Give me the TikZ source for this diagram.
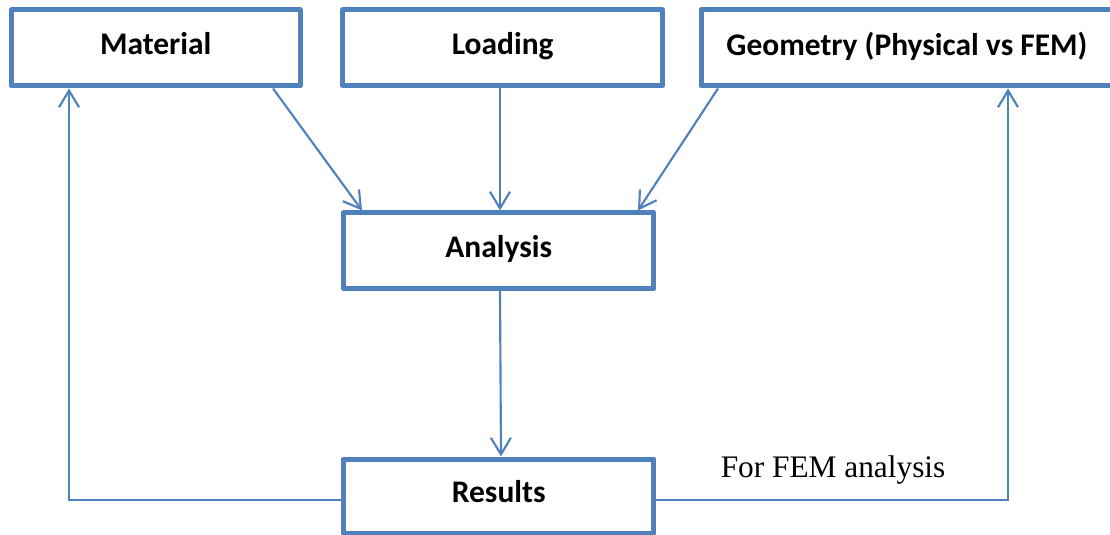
\documentclass[tikz,border=0pt]{standalone}
\usepackage{fontspec}
\setmainfont{Carlito}
\newfontfamily\serifnote{Liberation Serif}
\usetikzlibrary{arrows.meta}
\definecolor{officeblue}{HTML}{4F81BD}
\tikzset{
  box/.style={draw=officeblue, line width=3.75pt, line join=round, fill=white,
    inner sep=0pt, font=\fontsize{23.6pt}{28pt}\selectfont\bfseries, text=black},
  conn/.style={draw=officeblue, line width=1.6pt},
  arr/.style={conn, -{Straight Barb[length=12.5pt, width=15pt, line width=1.6pt]}},
}
% box labels sit a little above the middle of their box
\newcommand{\boxlabel}[1]{\raisebox{7pt}{#1}}
\begin{document}
\begin{tikzpicture}[x=0.75pt, y=-0.75pt]
  \useasboundingbox (0,0) rectangle (1110,535);
  \clip (0,0) rectangle (1110,535);

  % input boxes
  \node[box, minimum width=289*0.75pt, minimum height=76*0.75pt] (material) at (155.7,48) {\boxlabel{Material}};
  \node[box, minimum width=319.5*0.75pt, minimum height=76*0.75pt] (loading) at (502.7,48) {\boxlabel{Loading}};
  \node[box, minimum width=412*0.75pt, minimum height=76*0.75pt] (geometry) at (907,48) {\boxlabel{Geometry (Physical vs FEM)}};

  % analysis and results
  \node[box, minimum width=310.5*0.75pt, minimum height=75.5*0.75pt] (analysis) at (498.7,250.7) {\boxlabel{Analysis}};
  \node[box, minimum width=310.5*0.75pt, minimum height=74*0.75pt] (results) at (498.7,496) {\boxlabel{Results}};

  % inputs feeding the analysis
  \draw[arr] (273,0 |- material.south) -- (362,0 |- analysis.north);
  \draw[arr] (500,0 |- loading.south) -- (500,0 |- analysis.north);
  \draw[arr] (718,0 |- geometry.south) -- (638,0 |- analysis.north);
  \draw[arr] (500,0 |- analysis.south) -- (501,0 |- results.north);

  % feedback loops
  \coordinate (lcorner) at (69,500);
  \coordinate (rcorner) at (1008,500);
  \draw[arr] (results.west |- lcorner) -- (lcorner) -- (lcorner |- material.south);
  \draw[arr] (results.east |- rcorner) -- (rcorner) -- (rcorner |- geometry.south);

  \node[anchor=base west, inner sep=0pt, font=\serifnote\fontsize{23.5pt}{28pt}\selectfont] (fem) at (720.5,477) {For FEM analysis};
\end{tikzpicture}
\end{document}
